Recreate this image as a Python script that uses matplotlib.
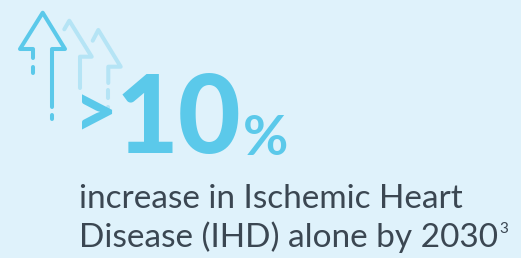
import matplotlib.pyplot as plt
from matplotlib.lines import Line2D

# ── Content ─────────────────────────────────────────────────────────────────
PREFIX = ">"
VALUE = 10
UNIT = "%"
CAPTION = ["increase in Ischemic Heart", "Disease (IHD) alone by 2030"]
FOOTNOTE = "3"

BG = "#dff2fb"
BLUE = "#5bc9ea"
FAINT = "#b5e4f5"
TEXT = "#3b4752"

# arrow icon outlines (pixel coords, y down)
MAIN_ARROW = [(33, 58), (33, 49), (20, 49), (42.7, 12.7), (65, 49), (52, 49), (52, 107)]
MAIN_DASHES = [[(33, 67), (33, 73)], [(52, 115), (52, 119)]]
BACK_ARROWS = [
    [(64.3, 29.3), (69.3, 20.7), (91.7, 56.7), (80, 56.7), (80, 88)],
    [(92.7, 40.7), (98.3, 30), (120.7, 66.7), (108.3, 66.7), (108.3, 83)],
]
BACK_DASHES = [[(108.3, 90), (108.3, 98)], [(108.3, 107), (108.3, 110)]]

W, H = 521, 258
fig = plt.figure(figsize=(W / 100, H / 100), dpi=100)
fig.patch.set_facecolor(BG)
ax = fig.add_axes([0, 0, 1, 1])
ax.set_xlim(0, W)
ax.set_ylim(H, 0)
ax.axis("off")


def stroke(pts, color, lw=2.9):
    xs, ys = zip(*pts)
    ax.add_line(Line2D(xs, ys, color=color, lw=lw, solid_capstyle="round",
                       solid_joinstyle="round"))


for path in BACK_ARROWS + BACK_DASHES:
    stroke(path, FAINT)
stroke(MAIN_ARROW, BLUE)
for d in MAIN_DASHES:
    stroke(d, BLUE)

ax.text(74, 116, PREFIX, color=BLUE, fontsize=54, fontweight="black",
        family="Lato", ha="left", va="center")
ax.text(116, 153, str(VALUE), color=BLUE, fontsize=78, fontweight="black",
        family="Lato", ha="left", va="baseline")
ax.text(243, 155, UNIT, color=BLUE, fontsize=40, fontweight="bold",
        family="Lato", ha="left", va="baseline")

ax.text(79, 208, CAPTION[0], color=TEXT, fontsize=24, family="Lato",
        ha="left", va="baseline")
t = ax.text(79, 247, CAPTION[1], color=TEXT, fontsize=24, family="Lato",
            ha="left", va="baseline")

# footnote marker sits right after the second caption line
fig.canvas.draw()
bb = t.get_window_extent().transformed(ax.transData.inverted())
ax.text(max(bb.x0, bb.x1) + 1, 233, FOOTNOTE, color=TEXT, fontsize=11,
        family="Lato", ha="left", va="baseline")

plt.savefig("out.png", dpi=100, facecolor=BG)
